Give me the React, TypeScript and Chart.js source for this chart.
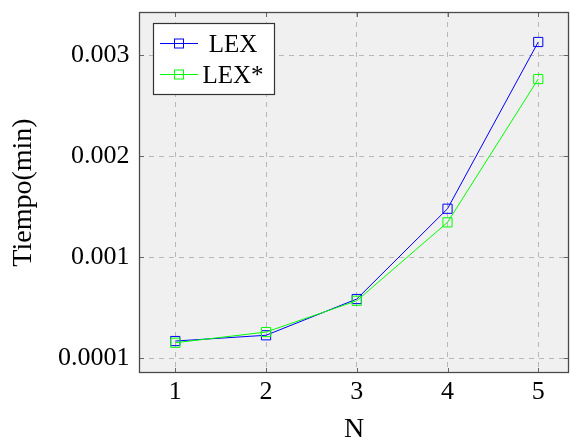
import React, { useEffect, useRef } from 'react';
import { Chart, registerables } from 'chart.js';

Chart.register(...registerables);

const nValues = [1, 2, 3, 4, 5];
const lexTimes = [0.000168, 0.000225, 0.000584, 0.001478, 0.003129];
const lexStarTimes = [0.000151, 0.000257, 0.000567, 0.001343, 0.002762];
const seriesNames = ['LEX', 'LEX*'];
const seriesColors = ['#0000ff', '#00ff00'];
const xTickValues = [1, 2, 3, 4, 5];
const yTickValues = [0, 0.001, 0.002, 0.003];
const yTickLabels = ['0.0001', '0.001', '0.002', '0.003'];
const xTitle = 'N';
const yTitle = 'Tiempo(min)';

const FONT = "'Liberation Serif', 'Times New Roman', serif";

const framePlugin = {
  id: 'pgfFrame',
  beforeDraw(chart: any) {
    const { ctx, chartArea: a } = chart;
    ctx.save();
    ctx.fillStyle = '#f0f0f0';
    ctx.fillRect(a.left, a.top, a.right - a.left, a.bottom - a.top);
    ctx.restore();
  },
  afterDatasetsDraw(chart: any) {
    const { ctx, chartArea: a, scales } = chart;
    const seg = (x1: number, y1: number, x2: number, y2: number) => {
      ctx.beginPath();
      ctx.moveTo(x1, y1);
      ctx.lineTo(x2, y2);
      ctx.stroke();
    };
    ctx.save();
    ctx.strokeStyle = '#666666';
    ctx.lineWidth = 1;
    const tl = 5;
    for (const v of xTickValues) {
      const x = Math.round(scales.x.getPixelForValue(v)) + 0.5;
      seg(x, a.top, x, a.top + tl);
      seg(x, a.bottom, x, a.bottom - tl);
    }
    for (const v of yTickValues) {
      const y = Math.round(scales.y.getPixelForValue(v)) + 0.5;
      seg(a.left, y, a.left + tl, y);
      seg(a.right, y, a.right - tl, y);
    }
    ctx.strokeStyle = '#4a4a4a';
    ctx.lineWidth = 1.3;
    ctx.strokeRect(a.left + 0.5, a.top + 0.5, a.right - a.left - 1, a.bottom - a.top - 1);
    ctx.restore();
  },
  afterDraw(chart: any) {
    const { ctx, chartArea: a } = chart;
    const bx = a.left + 14;
    const by = a.top + 11;
    const bw = 122;
    const bh = 72;
    ctx.save();
    ctx.fillStyle = '#ffffff';
    ctx.fillRect(bx, by, bw, bh);
    ctx.strokeStyle = '#333333';
    ctx.lineWidth = 1.2;
    ctx.strokeRect(bx + 0.5, by + 0.5, bw - 1, bh - 1);
    const rows = [by + 20.5, by + 51.5];
    chart.data.datasets.forEach((ds: any, i: number) => {
      const y = rows[i];
      ctx.strokeStyle = ds.borderColor;
      ctx.lineWidth = 1;
      ctx.beginPath();
      ctx.moveTo(bx + 7, y);
      ctx.lineTo(bx + 45, y);
      ctx.stroke();
      ctx.strokeRect(bx + 26 - 4.5, y - 4.5, 9, 9);
      ctx.fillStyle = '#000000';
      ctx.font = `25px ${FONT}`;
      ctx.textAlign = 'center';
      ctx.textBaseline = 'alphabetic';
      ctx.fillText(ds.label, bx + 80, y + 8);
    });
    ctx.restore();
  },
};

const zeroPad = (s: any) => {
  s.paddingTop = 0;
  s.paddingBottom = 0;
  s.paddingLeft = 0;
  s.paddingRight = 0;
};

export default function App() {
  const ref = useRef<HTMLCanvasElement | null>(null);
  useEffect(() => {
    if (!ref.current) return;
    const mk = (vals: number[]) => nValues.map((n, i) => ({ x: n, y: vals[i] }));
    const chart = new Chart(ref.current, {
      type: 'line',
      data: {
        datasets: [
          {
            label: seriesNames[0],
            data: mk(lexTimes),
            borderColor: seriesColors[0],
            borderWidth: 1,
            pointStyle: 'rect',
            pointRadius: 6.5,
            pointBorderWidth: 1,
            pointBorderColor: seriesColors[0],
            pointBackgroundColor: 'rgba(0,0,0,0)',
            tension: 0,
            order: 2,
          },
          {
            label: seriesNames[1],
            data: mk(lexStarTimes),
            borderColor: seriesColors[1],
            borderWidth: 1,
            pointStyle: 'rect',
            pointRadius: 6.5,
            pointBorderWidth: 1,
            pointBorderColor: seriesColors[1],
            pointBackgroundColor: 'rgba(0,0,0,0)',
            tension: 0,
            order: 1,
          },
        ],
      },
      options: {
        animation: false,
        responsive: false,
        devicePixelRatio: 1,
        layout: { autoPadding: false, padding: { top: 12, right: 1, bottom: 0, left: 0 } },
        plugins: { legend: { display: false }, tooltip: { enabled: false } },
        scales: {
          x: {
            type: 'linear',
            min: 0.6,
            max: 5.339,
            afterBuildTicks: (s: any) => {
              s.ticks = xTickValues.map((v) => ({ value: v }));
            },
            afterFit: (s: any) => {
              s.height = 71;
              zeroPad(s);
            },
            ticks: {
              padding: 3.5,
              color: '#000',
              font: { family: FONT, size: 26 },
              callback: (v: any) => String(v),
            },
            grid: { color: '#b8b8b8', lineWidth: 1, drawTicks: false },
            border: { display: false, dash: [5, 5] },
            title: {
              display: true,
              text: xTitle,
              color: '#000',
              font: { family: FONT, size: 28, lineHeight: 1 },
              padding: { top: 0, bottom: 0 },
            },
          },
          y: {
            type: 'linear',
            min: -0.0001485,
            max: 0.003426,
            afterBuildTicks: (s: any) => {
              s.ticks = yTickValues.map((v) => ({ value: v }));
            },
            afterFit: (s: any) => {
              s.width = 139;
              zeroPad(s);
            },
            ticks: {
              padding: 9.5,
              color: '#000',
              font: { family: FONT, size: 26 },
              callback: (v: any) => {
                const i = yTickValues.indexOf(v);
                return i >= 0 ? yTickLabels[i] : '';
              },
            },
            grid: { color: '#b8b8b8', lineWidth: 1, drawTicks: false },
            border: { display: false, dash: [5, 5] },
            title: {
              display: true,
              text: yTitle,
              color: '#000',
              font: { family: FONT, size: 28 },
              padding: { top: 7, bottom: 0 },
            },
          },
        },
      },
      plugins: [framePlugin],
    } as any);
    return () => chart.destroy();
  }, []);
  return (
    <div style={{ position: 'fixed', left: 0, top: 0, width: 570, height: 444, background: '#fff' }}>
      <canvas ref={ref} width={570} height={444} style={{ display: 'block' }} />
    </div>
  );
}
